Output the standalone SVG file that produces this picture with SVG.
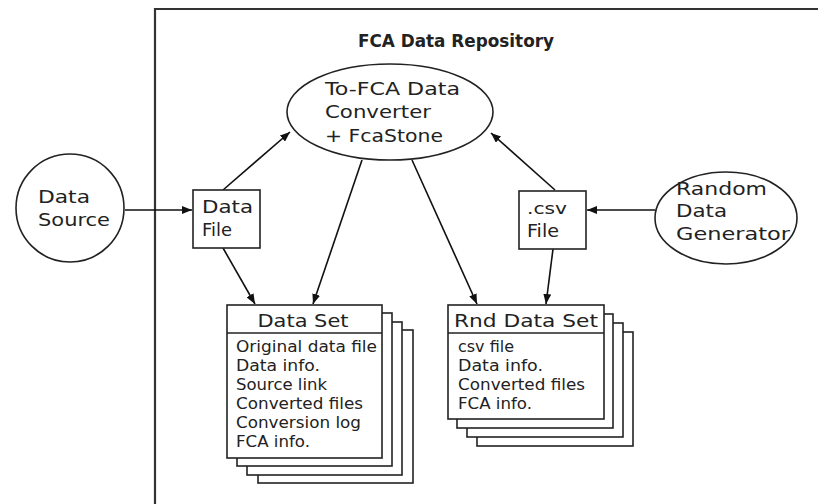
<svg xmlns="http://www.w3.org/2000/svg" width="818" height="504" viewBox="0 0 818 504">
<defs>
<marker id="ah" viewBox="0 0 10 8" refX="10" refY="4" markerWidth="10" markerHeight="8" markerUnits="userSpaceOnUse" orient="auto">
<path d="M0,0 L10,4 L0,8 Z" fill="#111"/>
</marker>
</defs>
<style>
.shape{fill:#fff;stroke:#222;stroke-width:1.6}
.t{font-family:"DejaVu Sans","Liberation Sans",sans-serif;fill:#222;font-size:17px}
.s{font-family:"DejaVu Sans","Liberation Sans",sans-serif;fill:#222;font-size:15px}
.c{stroke:#111;stroke-width:1.6;fill:none;marker-end:url(#ah)}
</style>
<rect width="818" height="504" fill="#fff"/>
<g id="repository">
<path d="M155,504 V9 H818" fill="none" stroke="#333" stroke-width="2.2"/>
<text x="456" y="47" text-anchor="middle" class="t" font-weight="bold" font-size="17" textLength="196" lengthAdjust="spacingAndGlyphs">FCA Data Repository</text>
</g>
<g id="connectors">
<line class="c" x1="125" y1="210" x2="192" y2="210"/>
<line class="c" x1="223" y1="190" x2="290" y2="132"/>
<line class="c" x1="223" y1="248" x2="255" y2="304"/>
<line class="c" x1="362" y1="160" x2="313" y2="304"/>
<line class="c" x1="412" y1="160" x2="477" y2="304"/>
<line class="c" x1="553" y1="249" x2="546" y2="304"/>
<line class="c" x1="555" y1="190" x2="491" y2="133"/>
<line class="c" x1="655" y1="210" x2="587" y2="210"/>
</g>
<g id="converter">
<ellipse class="shape" cx="390" cy="112" rx="103" ry="48"/>
<text class="t" x="325" y="95" textLength="135" lengthAdjust="spacingAndGlyphs">To-FCA Data</text>
<text class="t" x="325" y="118" textLength="106" lengthAdjust="spacingAndGlyphs">Converter</text>
<text class="t" x="325" y="142" textLength="118" lengthAdjust="spacingAndGlyphs">+ FcaStone</text>
</g>
<g id="data-source">
<circle class="shape" cx="70" cy="208" r="54"/>
<text class="t" x="38" y="203" textLength="52" lengthAdjust="spacingAndGlyphs">Data</text>
<text class="t" x="38" y="226" textLength="72" lengthAdjust="spacingAndGlyphs">Source</text>
</g>
<g id="data-file">
<rect class="shape" x="193" y="190" width="67" height="58"/>
<text class="t" x="202" y="213" textLength="51" lengthAdjust="spacingAndGlyphs">Data</text>
<text class="t" x="202" y="236" textLength="30" lengthAdjust="spacingAndGlyphs">File</text>
</g>
<g id="csv-file">
<rect class="shape" x="519" y="191" width="67" height="58"/>
<text class="s" x="527" y="214" textLength="40" lengthAdjust="spacingAndGlyphs">.csv</text>
<text class="t" x="527" y="237" textLength="32" lengthAdjust="spacingAndGlyphs">File</text>
</g>
<g id="random-generator">
<ellipse class="shape" cx="726" cy="218" rx="71" ry="46"/>
<text class="t" x="676" y="195" textLength="91" lengthAdjust="spacingAndGlyphs">Random</text>
<text class="t" x="676" y="217" textLength="51" lengthAdjust="spacingAndGlyphs">Data</text>
<text class="t" x="676" y="240" textLength="114" lengthAdjust="spacingAndGlyphs">Generator</text>
</g>
<g id="data-set">
<rect class="shape" x="258" y="330" width="155" height="153"/>
<rect class="shape" x="247" y="322" width="155" height="153"/>
<rect class="shape" x="237" y="313" width="155" height="153"/>
<rect class="shape" x="227" y="305" width="155" height="153"/>
<line x1="227" y1="333" x2="382" y2="333" stroke="#222" stroke-width="1.6"/>
<text class="t" x="303" y="327" text-anchor="middle" textLength="91" lengthAdjust="spacingAndGlyphs">Data Set</text>
<text class="s" x="236" y="352" textLength="141" lengthAdjust="spacingAndGlyphs">Original data file</text>
<text class="s" x="236" y="371" textLength="84" lengthAdjust="spacingAndGlyphs">Data info.</text>
<text class="s" x="236" y="390" textLength="91" lengthAdjust="spacingAndGlyphs">Source link</text>
<text class="s" x="236" y="409" textLength="127" lengthAdjust="spacingAndGlyphs">Converted files</text>
<text class="s" x="236" y="428" textLength="125" lengthAdjust="spacingAndGlyphs">Conversion log</text>
<text class="s" x="236" y="447" textLength="74" lengthAdjust="spacingAndGlyphs">FCA info.</text>
</g>
<g id="rnd-data-set">
<rect class="shape" x="477" y="332" width="156" height="114"/>
<rect class="shape" x="467" y="323" width="156" height="114"/>
<rect class="shape" x="457" y="314" width="156" height="114"/>
<rect class="shape" x="448" y="305" width="156" height="114"/>
<line x1="448" y1="333" x2="604" y2="333" stroke="#222" stroke-width="1.6"/>
<text class="t" x="526" y="327" text-anchor="middle" textLength="144" lengthAdjust="spacingAndGlyphs">Rnd Data Set</text>
<text class="s" x="458" y="352" textLength="56" lengthAdjust="spacingAndGlyphs">csv file</text>
<text class="s" x="458" y="371" textLength="85" lengthAdjust="spacingAndGlyphs">Data info.</text>
<text class="s" x="458" y="390" textLength="127" lengthAdjust="spacingAndGlyphs">Converted files</text>
<text class="s" x="458" y="409" textLength="74" lengthAdjust="spacingAndGlyphs">FCA info.</text>
</g>
</svg>
